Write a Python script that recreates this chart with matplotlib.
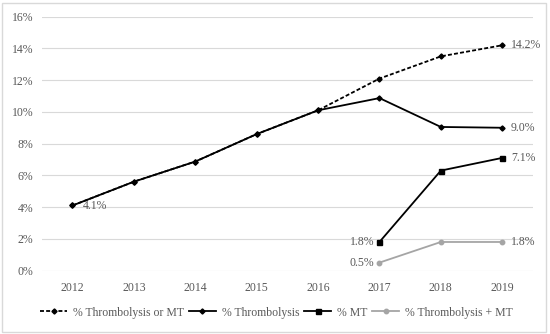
import matplotlib.pyplot as plt
from matplotlib.ticker import FuncFormatter

years = ['2012', '2013', '2014', '2015', '2016', '2017', '2018', '2019']
thromb_or_mt = [4.1, 5.6, 6.87, 8.6, 10.1, 12.1, 13.5, 14.2]
thromb = [4.1, 5.6, 6.87, 8.6, 10.1, 10.87, 9.05, 9.0]
mt_years = ['2017', '2018', '2019']
mt = [1.8, 6.3, 7.1]
both = [0.5, 1.8, 1.8]

plt.rcParams['font.family'] = ['Liberation Serif', 'DejaVu Serif']
grey = '#595959'

fig = plt.figure(figsize=(5.5, 3.34), dpi=100)
ax = fig.add_axes([0.076, 0.19, 0.893, 0.76])

x = list(range(len(years)))
xm = [years.index(y) for y in mt_years]

ax.plot(x, thromb_or_mt, color='black', ls=(0, (2.2, 1.2)), lw=1.3, marker='D',
        ms=2.6, label='% Thrombolysis or MT', zorder=3)
ax.plot(x, thromb, color='black', lw=1.3, marker='D', ms=2.6,
        label='% Thrombolysis', zorder=4)
ax.plot(xm, mt, color='black', lw=1.3, marker='s', ms=3.6,
        label='% MT', zorder=4)
ax.plot(xm, both, color='#a5a5a5', lw=1.3, marker='o', ms=3.2,
        label='% Thrombolysis + MT', zorder=4)

# data labels
kw = dict(fontsize=8.5, color=grey)
ax.text(x[0] + 0.16, thromb[0] - 0.05, f'{thromb[0]:.1f}%', va='center', ha='left', **kw)
ax.text(x[-1] + 0.14, thromb_or_mt[-1], f'{thromb_or_mt[-1]:.1f}%', va='center', ha='left', **kw)
ax.text(x[-1] + 0.14, thromb[-1], f'{thromb[-1]:.1f}%', va='center', ha='left', **kw)
ax.text(xm[-1] + 0.14, mt[-1], f'{mt[-1]:.1f}%', va='center', ha='left', **kw)
ax.text(xm[-1] + 0.14, both[-1], f'{both[-1]:.1f}%', va='center', ha='left', **kw)
ax.text(xm[0] - 0.08, mt[0], f'{mt[0]:.1f}%', va='center', ha='right', **kw)
ax.text(xm[0] - 0.08, both[0], f'{both[0]:.1f}%', va='center', ha='right', **kw)

ax.set_xlim(-0.5, len(years) - 0.5)
ax.set_ylim(0, 16)
ax.set_yticks(range(0, 17, 2))
ax.yaxis.set_major_formatter(FuncFormatter(lambda v, p: f'{v:.0f}%'))
ax.set_xticks(x)
ax.set_xticklabels(years)
ax.tick_params(axis='both', length=0, labelsize=8.5, labelcolor=grey, pad=8)
ax.tick_params(axis='y', pad=6)
ax.grid(axis='y', color='#d9d9d9', lw=0.8)
for s in ax.spines.values():
    s.set_visible(False)
ax.set_axisbelow(True)

ax.legend(loc='upper center', bbox_to_anchor=(0.478, -0.1), ncol=4, frameon=False,
          fontsize=8.5, labelcolor=grey, handlelength=2.3, handletextpad=0.5,
          columnspacing=0.4)

fig.patches.append(plt.Rectangle((0.003, 0.005), 0.99, 0.985, transform=fig.transFigure,
                                 fill=False, edgecolor='#d9d9d9', lw=1))

fig.savefig('out.png', dpi=100)
